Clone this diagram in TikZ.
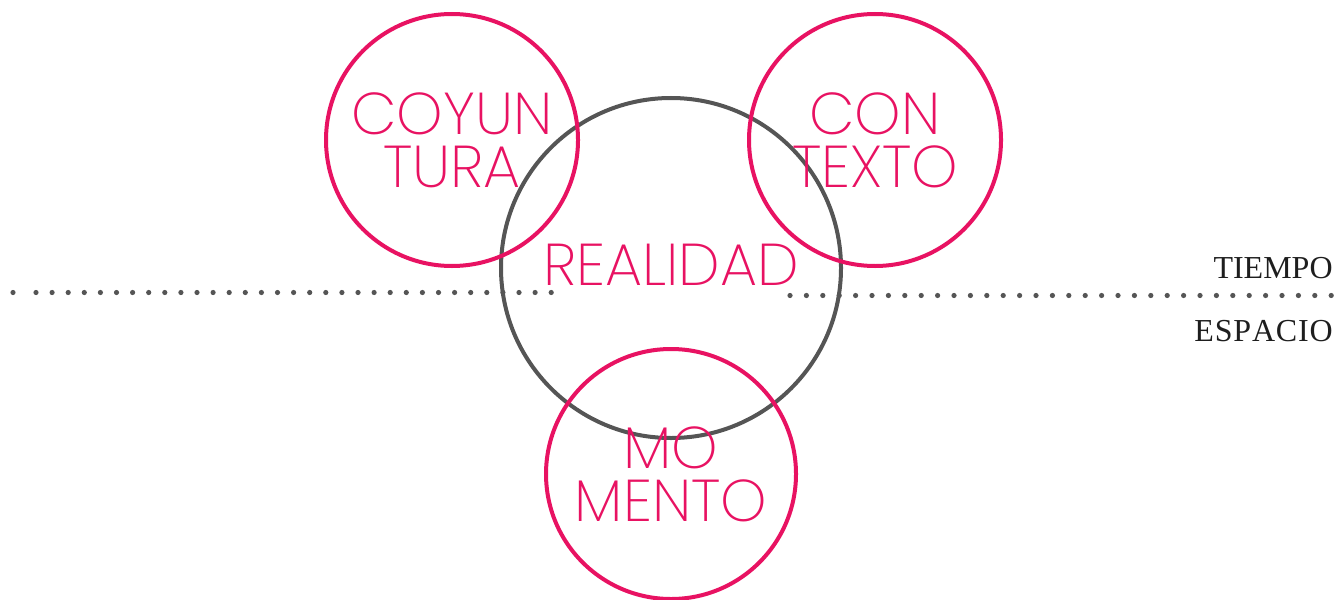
\documentclass[tikz,border=0pt]{standalone}
\usepackage{fontspec}
\usepackage{xcolor}
\usepackage{tikz}
\usetikzlibrary{positioning,calc}
\setmainfont{Liberation Serif}
\newfontfamily\thinfont{Poppins ExtraLight}
\definecolor{ringpink}{RGB}{232,18,98}
\definecolor{ringgray}{RGB}{85,85,85}
\definecolor{labelblack}{RGB}{30,30,30}
\tikzset{
  ring/.style={circle,draw=ringpink,line width=2pt,inner sep=0pt,
    text=ringpink,align=center,font=\thinfont\fontsize{29.5}{26.5}\selectfont},
  core/.style={ring,draw=ringgray},
  dotline/.style={ringgray,line width=2.6pt,line cap=round,dash pattern=on 0pt off 8.05pt},
  axislabel/.style={anchor=base east,inner sep=0pt,text=labelblack,font=\fontsize{16}{19}\selectfont}
}
\begin{document}
\begin{tikzpicture}[x=0.5pt,y=-0.5pt]
            \useasboundingbox (0,0) rectangle (1336,599);
            % dotted divider
            \draw[dotline] (13,292.5) -- (13.5,292.5) (36,292.5) -- (551.4,292.5);
            \draw[dotline,dash pattern=on 0pt off 8.2pt] (790,295.5) -- (1331.4,295.5);
            \node[axislabel] (tiempo) at (1333,278) {TIEMPO};
            \node[axislabel] (espacio) at (1333,341) {E\kern.4pt S\kern.4pt P\kern.4pt A\kern.4pt C\kern.4pt I\kern.4pt O};
            % central circle
            \node[core,minimum size=170pt] (realidad) at (671,268) {};
            \node[ring,draw=none] (realidadtext) at (671,265) {REALIDAD};
            % outer circles
            \node[ring,minimum size=126pt] (coyuntura) at (452,140) {COYUN\\TURA};
            \node[ring,minimum size=126pt] (contexto) at (875,140) {CON\\TEXTO};
            \node[ring,minimum size=125pt] (momento) at (671,474) {MO\\MENTO};
        \end{tikzpicture}
\end{document}
